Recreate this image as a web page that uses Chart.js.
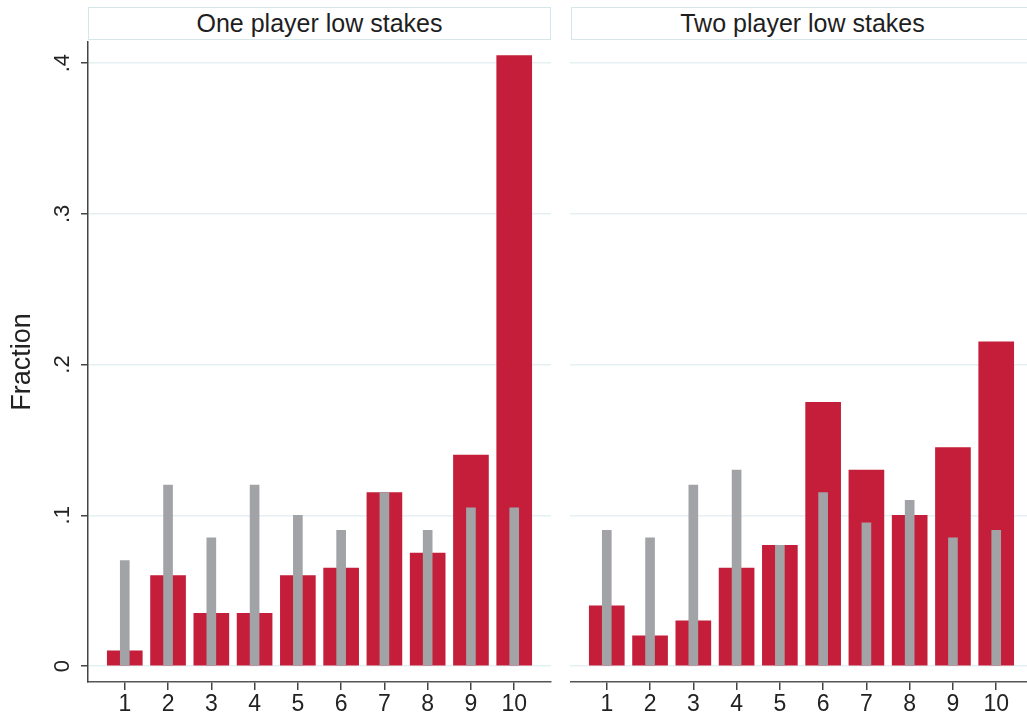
<!DOCTYPE html>
<html>
<head>
<meta charset="utf-8">
<script src="https://cdn.jsdelivr.net/npm/chart.js@4"></script>
<style>
body { margin:0; width:1027px; height:718px; overflow:hidden; background:#fff; position:relative; font-family:"Liberation Sans", Arial, sans-serif; }
.strip { position:absolute; top:7px; height:33px; border:1px solid #d6e6eb; box-sizing:border-box; text-align:center; font-size:25px; line-height:31px; color:#1e1e1e; background:#fff; }
#wrap1 { position:absolute; left:0; top:0; width:560px; height:718px; }
#wrap2 { position:absolute; left:570px; top:0; width:463px; height:718px; }
</style>
</head>
<body>
<div class="strip" style="left:88px; width:463px;">One player low stakes</div>
<div class="strip" style="left:571px; width:463px;">Two player low stakes</div>
<div id="wrap1"><canvas id="c1"></canvas></div>
<div id="wrap2"><canvas id="c2"></canvas></div>
<script>
// values
const cats = [1, 2, 3, 4, 5, 6, 7, 8, 9, 10];
const oneRed  = [0.01, 0.06, 0.035, 0.035, 0.06, 0.065, 0.115, 0.075, 0.14, 0.405];
const oneGray = [0.07, 0.12, 0.085, 0.12, 0.10, 0.09, 0.115, 0.09, 0.105, 0.105];
const twoRed  = [0.04, 0.02, 0.03, 0.065, 0.08, 0.175, 0.13, 0.10, 0.145, 0.215];
const twoGray = [0.09, 0.085, 0.12, 0.13, 0.08, 0.115, 0.095, 0.11, 0.085, 0.09];
const yTicks = [0, 0.1, 0.2, 0.3, 0.4];
const yLabels = ['0', '.1', '.2', '.3', '.4'];

const red = '#C41E3A';
const gray = '#A2A3A7';
const gridCol = '#e6f0f3';

function makeChart(id, redVals, grayVals, showY) {
  const ctx = document.getElementById(id).getContext('2d');
  return new Chart(ctx, {
    type: 'bar',
    data: {
      datasets: [{
        data: cats.map((c, i) => ({ x: c, y: grayVals[i] })),
        backgroundColor: gray,
        barThickness: 9,
        grouped: false
      }, {
        data: cats.map((c, i) => ({ x: c, y: redVals[i] })),
        backgroundColor: red,
        barThickness: 35,
        grouped: false
      }]
    },
    options: {
      responsive: true,
      maintainAspectRatio: false,
      animation: false,
      layout: { padding: { top: 42, right: showY ? 9 : 0, left: 0, bottom: 0 } },
      plugins: { legend: { display: false }, tooltip: { enabled: false } },
      scales: {
        x: {
          type: 'linear',
          min: 0.15,
          max: 10.85,
          offset: false,
          afterBuildTicks: a => { a.ticks = cats.map(v => ({ value: v })); },
          afterFit: s => { s.height = 36; },
          ticks: {
            callback: v => String(v),
            color: '#222',
            font: { family: '"Liberation Sans", Arial', size: 23 },
            padding: 1,
            maxRotation: 0
          },
          grid: { offset: false, drawOnChartArea: false, tickLength: 8, tickColor: '#444', lineWidth: 1.5 },
          border: { color: '#555', width: 1.5 }
        },
        y: {
          min: -0.0106,
          max: 0.414,
          afterBuildTicks: a => { a.ticks = yTicks.map(v => ({ value: v })); },
          afterFit: s => { s.width = showY ? 88 : 0; },
          ticks: {
            display: showY,
            callback: (v, i) => yLabels[i],
            color: '#222',
            font: { family: '"Liberation Sans", Arial', size: 22 },
            minRotation: 90,
            maxRotation: 90,
            crossAlign: 'center',
            padding: 9
          },
          grid: { color: gridCol, lineWidth: 1.5, tickLength: showY ? 7 : 0, drawTicks: showY, tickColor: '#444' },
          border: { display: showY, color: '#444', width: 1.5 },
          title: {
            display: showY,
            text: 'Fraction',
            color: '#222',
            font: { family: '"Liberation Sans", Arial', size: 27 },
            padding: { top: 6, bottom: 0 }
          }
        }
      }
    }
  });
}

makeChart('c1', oneRed, oneGray, true);
makeChart('c2', twoRed, twoGray, false);
</script>
</body>
</html>
